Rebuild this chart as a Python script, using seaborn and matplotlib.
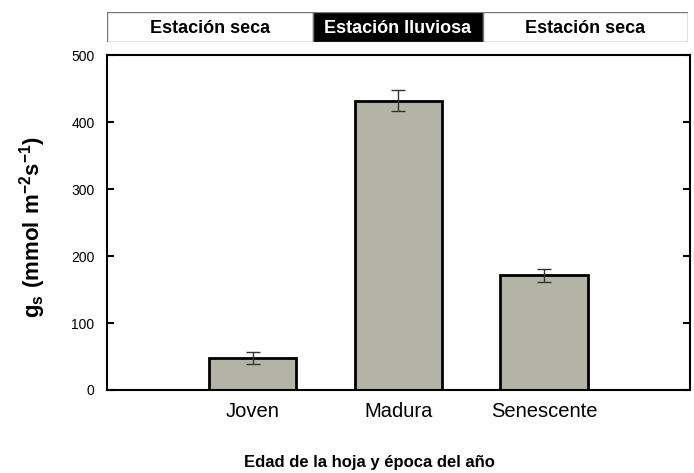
import matplotlib
matplotlib.use('Agg')
import matplotlib.pyplot as plt
import seaborn as sns
import pandas as pd
from matplotlib.patches import Rectangle

# data
categories = ['Joven', 'Madura', 'Senescente']
gs_mean = [48, 432, 171]
gs_err = [9, 16, 10]

# season band (x positions in category units)
season_labels = ['Estación seca', 'Estación lluviosa', 'Estación seca']
season_edges = [-1.0, 0.42, 1.59, 3.0]
season_colors = ['white', 'black', 'white']

sns.set_theme(style='ticks')
plt.rcParams['font.family'] = ['Liberation Sans', 'DejaVu Sans']
plt.rcParams['mathtext.fontset'] = 'custom'
plt.rcParams['mathtext.bf'] = 'Liberation Sans:bold'
plt.rcParams['mathtext.rm'] = 'Liberation Sans'
plt.rcParams['text.color'] = 'black'
plt.rcParams['axes.labelcolor'] = 'black'
plt.rcParams['xtick.color'] = 'black'
plt.rcParams['ytick.color'] = 'black'

df = pd.DataFrame({'edad': categories, 'gs': gs_mean})

fig = plt.figure(figsize=(6.94, 4.73), dpi=100)
ax = fig.add_axes([0.154, 0.1755, 0.840, 0.708])

sns.barplot(data=df, x='edad', y='gs', order=categories, color='#b4b4a6',
            saturation=1, width=0.6, edgecolor='black', linewidth=2,
            errorbar=None, ax=ax)
ax.errorbar(range(len(categories)), gs_mean, yerr=gs_err, fmt='none',
            ecolor='#333333', elinewidth=1, capsize=5, capthick=1)

ax.set_xlim(-1, 3)
ax.set_ylim(0, 500)
ax.set_yticks([0, 100, 200, 300, 400, 500])
ax.tick_params(axis='y', which='major', direction='in', length=5, width=1.5,
               labelsize=10, left=True, right=True, pad=9)
ax.tick_params(axis='x', length=0, labelsize=14.5, pad=9)
for s in ax.spines.values():
    s.set_linewidth(1.5)
    s.set_color('black')

ax.set_xlabel('')
ax.set_ylabel('')
fig.text(369 / 694, 1 - 462 / 473, 'Edad de la hoja y época del año',
         fontsize=12, fontweight='bold', ha='center', va='center')
fig.text(33 / 694, 1 - 227 / 473, r'$\mathbf{g_s\ (mmol\ m^{-2}s^{-1})}$',
         fontsize=16, rotation=90, ha='center', va='center')

# season band on top
band = fig.add_axes([0.154, 0.9112, 0.837, 0.0634])
band.set_xlim(-1, 3)
band.set_ylim(0, 1)
band.axis('off')
for i, lab in enumerate(season_labels):
    x0, x1 = season_edges[i], season_edges[i + 1]
    band.add_patch(Rectangle((x0, 0), x1 - x0, 1, facecolor=season_colors[i],
                             edgecolor='#777777', linewidth=1))
    band.text((x0 + x1) / 2, 0.45, lab, ha='center', va='center',
              fontsize=13, fontweight='bold',
              color='white' if season_colors[i] == 'black' else 'black')

fig.savefig('out.png', dpi=100)
